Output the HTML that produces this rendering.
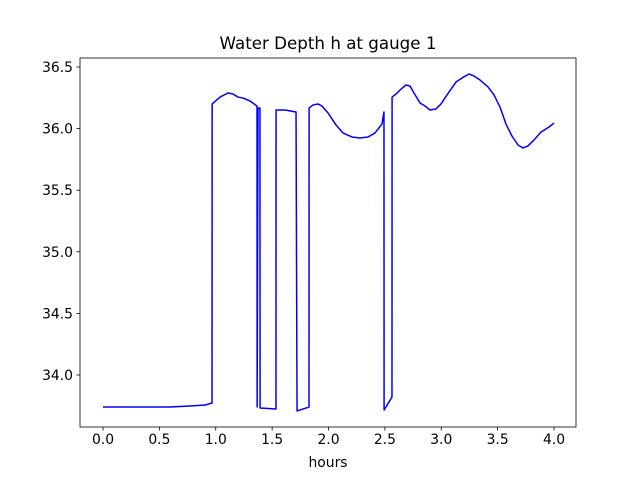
<!DOCTYPE html>
<html><head><meta charset="utf-8"><style>body{margin:0;background:#fff}svg{display:block}text{font-family:"DejaVu Sans","Liberation Sans",sans-serif;fill:#000}</style></head>
<body>
<svg id="chart" width="640" height="480" viewBox="0 0 640 480">
<rect width="640" height="480" fill="#fff"/>
<text x="328" y="49" font-size="16.7" text-anchor="middle">Water Depth h at gauge 1</text>
<g id="axes"></g>
<text x="328" y="467" font-size="13.9" text-anchor="middle">hours</text>
</svg>
<script>
const times=[0,0.594,0.772,0.905,0.967,0.968,1.038,1.109,1.153,1.197,1.242,1.304,1.366,1.367,1.375,1.392,1.393,1.534,1.535,1.614,1.712,1.721,1.827,1.828,1.863,1.907,1.942,1.996,2.067,2.129,2.208,2.279,2.350,2.412,2.474,2.492,2.493,2.563,2.564,2.599,2.634,2.687,2.723,2.758,2.812,2.856,2.900,2.953,2.998,3.051,3.131,3.184,3.246,3.290,3.344,3.415,3.468,3.521,3.574,3.627,3.681,3.725,3.769,3.822,3.885,3.956,4.000];
const depths=[33.740,33.740,33.748,33.756,33.773,36.200,36.256,36.289,36.281,36.256,36.248,36.224,36.183,33.740,36.167,36.167,33.732,33.724,36.151,36.151,36.135,33.708,33.740,36.167,36.192,36.200,36.183,36.127,36.029,35.964,35.932,35.924,35.932,35.964,36.037,36.135,33.716,33.821,36.256,36.281,36.313,36.354,36.346,36.289,36.208,36.183,36.151,36.159,36.200,36.273,36.378,36.411,36.443,36.427,36.394,36.338,36.273,36.175,36.037,35.940,35.867,35.843,35.859,35.907,35.972,36.013,36.045];
const xTicks=[0,0.5,1,1.5,2,2.5,3,3.5,4];
const xTickLabels=["0.0","0.5","1.0","1.5","2.0","2.5","3.0","3.5","4.0"];
const yTicks=[34,34.5,35,35.5,36,36.5];
const yTickLabels=["34.0","34.5","35.0","35.5","36.0","36.5"];
const L=80,R=576,T=58,B=427;
const xs=t=>103+112.75*t, ys=h=>375-123.2*(h-34);
const NS="http://www.w3.org/2000/svg", g=document.getElementById('axes');
function mk(tag,a,p){const e=document.createElementNS(NS,tag);for(const k in a)e.setAttribute(k,a[k]);(p||g).appendChild(e);return e;}
let d=times.map((t,i)=>(i?'L':'M')+xs(t).toFixed(2)+' '+ys(depths[i]).toFixed(2)).join('');
const line=mk('path',{d:d,fill:'none',stroke:'#0000ff','stroke-width':1.5,'stroke-linejoin':'round'});


const frame=mk('rect',{x:L,y:T,width:R-L,height:B-T,fill:'none',stroke:'#000','stroke-width':0.8});


xTicks.forEach((v,i)=>{const x=xs(v);
 const tk=mk('line',{x1:x,x2:x,y1:B,y2:B+3.5,stroke:'#000','stroke-width':0.8});
 
 
 const tx=mk('text',{x:x,y:B+17,'font-size':13.9,'text-anchor':'middle'});tx.textContent=xTickLabels[i];
 
 });
yTicks.forEach((v,i)=>{const y=ys(v);
 const tk=mk('line',{x1:L-3.5,x2:L,y1:y,y2:y,stroke:'#000','stroke-width':0.8});
 
 
 const tx=mk('text',{x:L-7,y:y+5,'font-size':13.9,'text-anchor':'end'});tx.textContent=yTickLabels[i];
 
 });
</script>
</body></html>
